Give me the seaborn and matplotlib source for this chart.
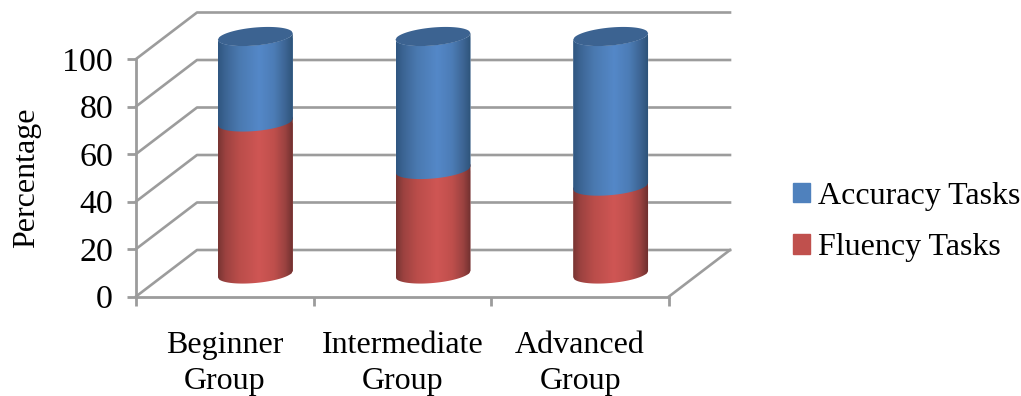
import numpy as np
import matplotlib
matplotlib.use("Agg")
import matplotlib.pyplot as plt
from matplotlib.colors import LinearSegmentedColormap
from matplotlib.patches import Patch, PathPatch
from matplotlib.path import Path
import seaborn as sns

categories = ["Beginner\nGroup", "Intermediate\nGroup", "Advanced\nGroup"]
fluency = [64, 44, 37]
accuracy = [36, 56, 63]
y_ticks = [0, 20, 40, 60, 80, 100]

W, H = 1021, 396
GREY = "#9c9c9c"
sns.set_theme(style="white")
plt.rcParams["font.family"] = ["Liberation Serif", "DejaVu Serif"]
FONT = 23
TICK_FONT = 24.5

fig = plt.figure(figsize=(W / 100, H / 100), dpi=100)


def px_axes(left, top, right, bottom):
    return fig.add_axes([left / W, 1 - bottom / H, (right - left) / W, (bottom - top) / H])


# Front plane of the box: x spans the categories, y spans the percentage scale
X0, X1, Y100, Y0 = 136, 669, 59, 296.5
ax = px_axes(X0, Y100, X1, Y0)
ax.set_xlim(-0.5, 2.5)
ax.set_ylim(0, 100)
px_x = (X1 - X0) / 3
px_y = (Y0 - Y100) / 100

# Depth of the box as a shear of the front plane
dx = 61 / px_x
dy = 46.5 / px_y
line_kw = dict(color=GREY, lw=1.9, clip_on=False, solid_capstyle="projecting", zorder=1)
for v in y_ticks:
    ax.plot([-0.5, -0.5 + dx, 2.5 + dx], [v, v + dy, v + dy], **line_kw)
ax.plot([2.5, 2.5 + dx], [0, dy], **line_kw)

sns.despine(ax=ax, top=True, right=True)
for side in ("left", "bottom"):
    ax.spines[side].set_color(GREY)
    ax.spines[side].set_linewidth(2.0)
ax.set_yticks(y_ticks)
ax.set_xticks([-0.5, 0.5, 1.5, 2.5])
ax.set_xticklabels([])
ax.tick_params(axis="both", which="major", length=6.5, width=2.0, color=GREY,
               left=True, bottom=True, labelcolor="black")
ax.tick_params(axis="y", labelsize=TICK_FONT, pad=10)
for pos, label in zip(range(3), categories):
    ax.annotate(label, xy=(pos, 0), xycoords=("data", "axes fraction"), xytext=(0, -24.5),
                textcoords="offset points", ha="center", va="top",
                fontsize=FONT, linespacing=1.32, color="black", annotation_clip=False)
fig.text(27 / W, 1 - 178 / H, "Percentage", rotation=90, ha="center", va="center",
         fontsize=FONT, color="black")

# Cylinders sit halfway into the box, on their own transparent axes
SHIFT_X, SHIFT_Y = 30.5, 22.5
PAD = 20
bars = px_axes(X0 + SHIFT_X, Y100 - SHIFT_Y - PAD * px_y, X1 + SHIFT_X, Y0 - SHIFT_Y + PAD * px_y)
bars.patch.set_alpha(0)
total = [f + a for f, a in zip(fluency, accuracy)]
positions = np.arange(len(categories))
sns.barplot(x=positions, y=total, color="#4f81bd", width=0.422, saturation=1,
            native_scale=True, ax=bars)
n_back = len(bars.patches)
sns.barplot(x=positions, y=fluency, color="#c0504d", width=0.422, saturation=1,
            native_scale=True, ax=bars)
bars.axis("off")

blue_map = LinearSegmentedColormap.from_list("b", [
    (0.0, "#2f5680"), (0.1, "#3c6594"), (0.28, "#4a79b0"), (0.55, "#5488c8"),
    (0.75, "#4c7cb6"), (0.9, "#3d6594"), (1.0, "#2d5379")])
red_map = LinearSegmentedColormap.from_list("r", [
    (0.0, "#783432"), (0.1, "#9c4240"), (0.28, "#ba4d4a"), (0.55, "#cf5654"),
    (0.75, "#bf4f4c"), (0.9, "#9a4240"), (1.0, "#6f302f")])
ramp = np.linspace(0, 1, 256).reshape(1, -1)

SEMI = 9 / px_y
TILT = (6.5 / px_y) / (75 / px_x)


def arc(center, half, level, sign):
    xs = np.linspace(center - half, center + half, 60)
    u = (xs - center) / half
    ys = level + TILT * (xs - center) + sign * SEMI * np.sqrt(np.clip(1 - u ** 2, 0, 1))
    return np.column_stack([xs, ys])


def fill_segment(patch, low, high, cmap):
    # Rounded body between two levels, shaded across its width
    half = patch.get_width() / 2
    center = patch.get_x() + half
    outline = np.vstack([arc(center, half, low, -1), arc(center, half, high, -1)[::-1]])
    clip = PathPatch(Path(np.vstack([outline, outline[:1]]), closed=True),
                     transform=bars.transData, fc="none", ec="none")
    bars.add_patch(clip)
    patch.set_clip_path(clip)
    image = bars.imshow(ramp, cmap=cmap, aspect="auto", zorder=3,
                        extent=(center - half, center + half, -PAD, 100 + PAD))
    image.set_clip_path(clip)
    return center, half


for i, (back, front) in enumerate(zip(bars.patches[:n_back], bars.patches[n_back:])):
    fill_segment(front, 0, fluency[i] + 1, red_map)
    center, half = fill_segment(back, fluency[i], total[i], blue_map)
    rim = np.vstack([arc(center, half, total[i], -1), arc(center, half, total[i], 1)[::-1]])
    bars.fill(rim[:, 0], rim[:, 1], color="#3c6391", lw=0, zorder=4)

bars.set_xlim(-0.5, 2.5)
bars.set_ylim(-PAD, 100 + PAD)

handles = [Patch(color="#4f81bd", label="Accuracy Tasks"), Patch(color="#c0504d", label="Fluency Tasks")]
fig.legend(handles=handles, loc="center left", bbox_to_anchor=(783 / W, 1 - 222 / H), frameon=False,
           fontsize=FONT, handlelength=0.55, handleheight=0.55, handletextpad=0.26,
           labelspacing=0.7, borderpad=0, borderaxespad=0.3, labelcolor="black")

fig.savefig("out.png", dpi=100, facecolor="white")
